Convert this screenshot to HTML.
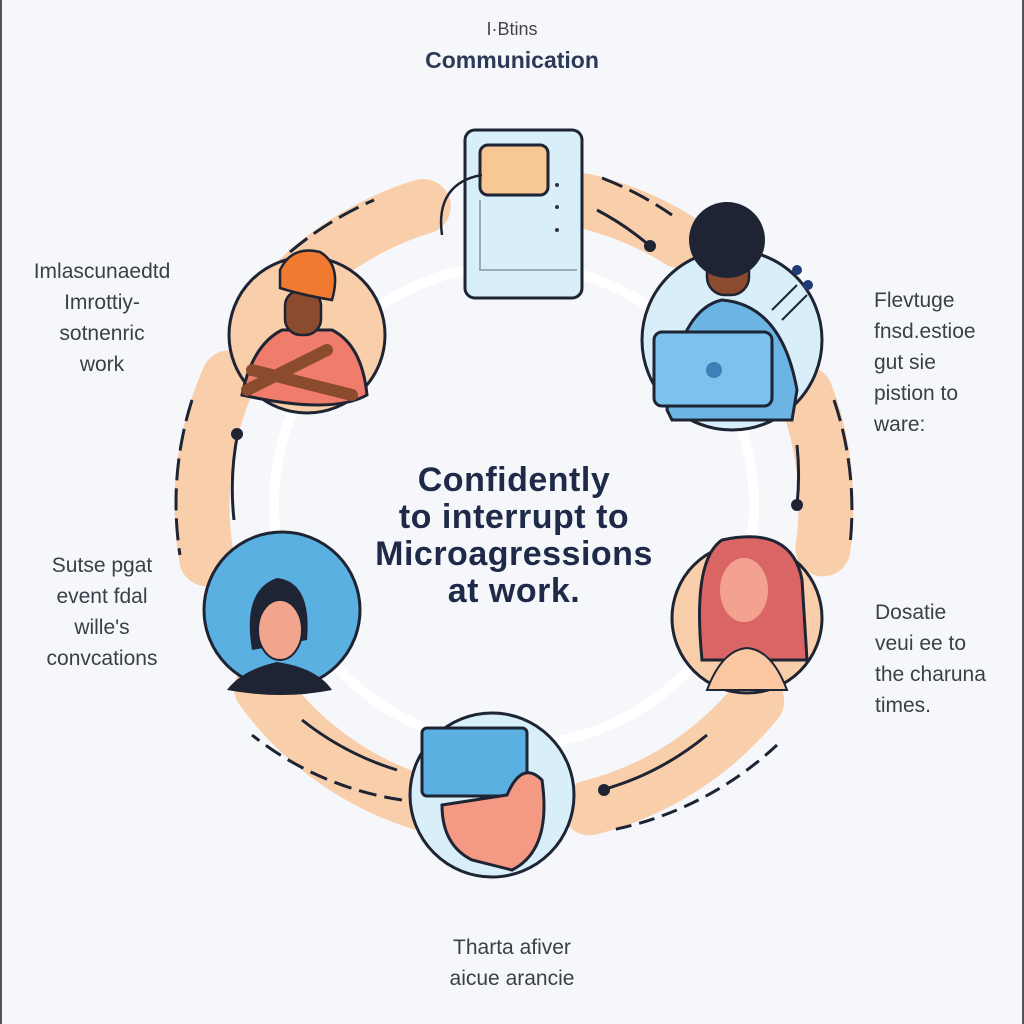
<!DOCTYPE html>
<html><head><meta charset="utf-8"><style>
html,body{margin:0;padding:0;background:#f5f7fa;}
.wrap{position:relative;width:1024px;height:1024px;overflow:hidden;background:#f5f7fa;border-left:2px solid #555;border-right:2px solid #555;box-sizing:border-box;}
svg{position:absolute;left:0;top:0}
.t{position:absolute;font-family:"Liberation Sans",sans-serif;color:#3a3f48;font-size:21px;line-height:31px;text-align:center}
.c{position:absolute;font-family:"Liberation Sans",sans-serif;color:#1e2a48;font-weight:bold;font-size:34px;line-height:37px;text-align:center;left:292px;width:440px;top:462px;letter-spacing:0.5px}
</style></head><body><div class="wrap">
<svg width="1024" height="1024" viewBox="0 0 1024 1024">
<g fill="none" stroke-linecap="round">
<circle cx="512" cy="505" r="240" stroke="#ffffff" stroke-width="10"/>
<g stroke="#f9cfab" stroke-width="55">
<circle cx="512" cy="505" r="312" stroke-dasharray="180 1780" stroke-dashoffset="-1198"/>
<circle cx="512" cy="505" r="312" stroke-dasharray="104 1856" stroke-dashoffset="-1541"/>
<circle cx="512" cy="505" r="312" stroke-dasharray="158 1802" stroke-dashoffset="114"/>
<circle cx="512" cy="505" r="312" stroke-dasharray="202 1758" stroke-dashoffset="-212"/>
<circle cx="512" cy="505" r="312" stroke-dasharray="218 1742" stroke-dashoffset="-566"/>
<circle cx="512" cy="505" r="312" stroke-dasharray="185 1775" stroke-dashoffset="-926"/>
</g>
<g stroke="#1e2433" stroke-width="3" stroke-linecap="butt">
<path d="M288 252 A340 340 0 0 1 372 200" stroke-dasharray="22 8"/>
<path d="M600 178 A340 340 0 0 1 670 215" stroke-dasharray="22 8"/>
<path d="M832 400 A340 340 0 0 1 848 545" stroke-dasharray="22 8"/>
<path d="M775 745 A340 340 0 0 1 610 830" stroke-dasharray="16 8"/>
<path d="M400 800 A315 315 0 0 1 250 735" stroke-dasharray="18 8"/>
<path d="M190 400 A340 340 0 0 0 178 555" stroke-dasharray="22 8"/>
<path d="M595 210 A285 285 0 0 1 648 246"/>
<path d="M795 445 A285 285 0 0 1 795 505"/>
<path d="M600 790 A285 285 0 0 0 705 735"/>
<path d="M395 770 A290 290 0 0 1 300 720"/>
<path d="M236 432 A285 285 0 0 0 232 520"/>
</g>
</g>
<g fill="#1e2433">
<circle cx="648" cy="246" r="6"/><circle cx="795" cy="505" r="6"/><circle cx="602" cy="790" r="6"/><circle cx="235" cy="434" r="6"/>
</g>
<rect x="463" y="130" width="117" height="168" rx="10" fill="#d8eef9" stroke="#1e2433" stroke-width="3"/>
<rect x="478" y="145" width="68" height="50" rx="8" fill="#f8c894" stroke="#1e2433" stroke-width="3"/>
<path d="M478 200 L478 270 L575 270" fill="none" stroke="#9ab" stroke-width="2"/>
<path d="M480 175 C450 180 435 200 440 235" fill="none" stroke="#1e2433" stroke-width="2.5"/>
<g fill="#334"><circle cx="555" cy="185" r="2"/><circle cx="555" cy="207" r="2"/><circle cx="555" cy="230" r="2"/></g>
<circle cx="305" cy="335" r="78" fill="#f9cfab" stroke="#1e2433" stroke-width="3"/>
<path d="M240 395 Q250 345 280 330 L330 330 Q360 345 365 395 Q330 415 240 395Z" fill="#f07c6c" stroke="#1e2433" stroke-width="3"/>
<rect x="283" y="290" width="36" height="45" rx="16" fill="#8b4b2e" stroke="#1e2433" stroke-width="2.5"/>
<path d="M278 270 Q290 245 318 252 Q340 265 330 300 Q300 295 278 288Z" fill="#f07a30" stroke="#1e2433" stroke-width="2.5"/>
<path d="M245 390 L325 350 M250 370 L350 395" stroke="#8b4b2e" stroke-width="12" stroke-linecap="round"/>
<circle cx="730" cy="340" r="90" fill="#d8eef9" stroke="#1e2433" stroke-width="3"/>
<path d="M665 410 Q675 310 720 300 Q780 305 795 390 L790 420 L670 420Z" fill="#6bb4e4" stroke="#1e2433" stroke-width="3"/>
<rect x="705" y="245" width="42" height="50" rx="18" fill="#8b4b2e" stroke="#1e2433" stroke-width="2.5"/>
<circle cx="725" cy="240" r="38" fill="#1e2433"/>
<rect x="652" y="332" width="118" height="74" rx="8" fill="#7cc2ee" stroke="#1e2433" stroke-width="3"/>
<circle cx="712" cy="370" r="8" fill="#3d80b8"/>
<circle cx="795" cy="270" r="5" fill="#1e3a78"/><circle cx="806" cy="285" r="5" fill="#1e3a78"/>
<path d="M770 310 L795 285 M780 320 L805 295" stroke="#1e2433" stroke-width="2"/>
<circle cx="280" cy="610" r="78" fill="#5bb0e2" stroke="#1e2433" stroke-width="3"/>
<path d="M225 690 Q240 670 275 662 Q315 668 330 690 Q280 700 225 690Z" fill="#1e2433"/>
<path d="M250 650 Q240 590 275 578 Q310 582 305 640Z" fill="#1e2433"/>
<ellipse cx="278" cy="630" rx="22" ry="30" fill="#f2a48c" stroke="#1e2433" stroke-width="2"/>
<circle cx="745" cy="618" r="75" fill="#f9cfab" stroke="#1e2433" stroke-width="3"/>
<path d="M700 660 Q690 560 720 540 Q790 525 800 580 L805 660Z" fill="#d96664" stroke="#1e2433" stroke-width="3"/>
<ellipse cx="742" cy="590" rx="24" ry="32" fill="#f4a290"/>
<path d="M705 690 Q720 650 745 648 Q770 650 785 690Z" fill="#fbc6a2" stroke="#1e2433" stroke-width="2"/>
<circle cx="490" cy="795" r="82" fill="#d8eef9" stroke="#1e2433" stroke-width="3"/>
<rect x="420" y="728" width="105" height="68" rx="5" fill="#5bb0e2" stroke="#1e2433" stroke-width="3"/>
<path d="M440 805 L505 795 Q520 760 540 780 Q550 850 510 870 L470 860 Q440 845 440 805Z" fill="#f49a84" stroke="#1e2433" stroke-width="3"/>
</svg>
<div class="t" style="left:400px;width:220px;top:17px;font-size:18px;line-height:24px;color:#444">I·Btins</div>
<div class="t" style="left:370px;width:280px;top:46px;font-weight:bold;color:#2c3a58;font-size:23px;line-height:28px">Communication</div>
<div class="t" style="left:0px;width:200px;top:256px">Imlascunaedtd<br>Imrottiy-<br>sotnenric<br>work</div>
<div class="t" style="left:872px;width:150px;top:285px;text-align:left">Flevtuge<br>fnsd.estioe<br>gut sie<br>pistion to<br>ware:</div>
<div class="t" style="left:10px;width:180px;top:550px">Sutse pgat<br>event fdal<br>wille's<br>convcations</div>
<div class="t" style="left:873px;width:150px;top:597px;text-align:left">Dosatie<br>veui ee to<br>the charuna<br>times.</div>
<div class="t" style="left:370px;width:280px;top:932px">Tharta afiver<br>aicue arancie</div>
<div class="c">Confidently<br>to interrupt to<br>Microagressions<br>at work.</div>
</div></body></html>
